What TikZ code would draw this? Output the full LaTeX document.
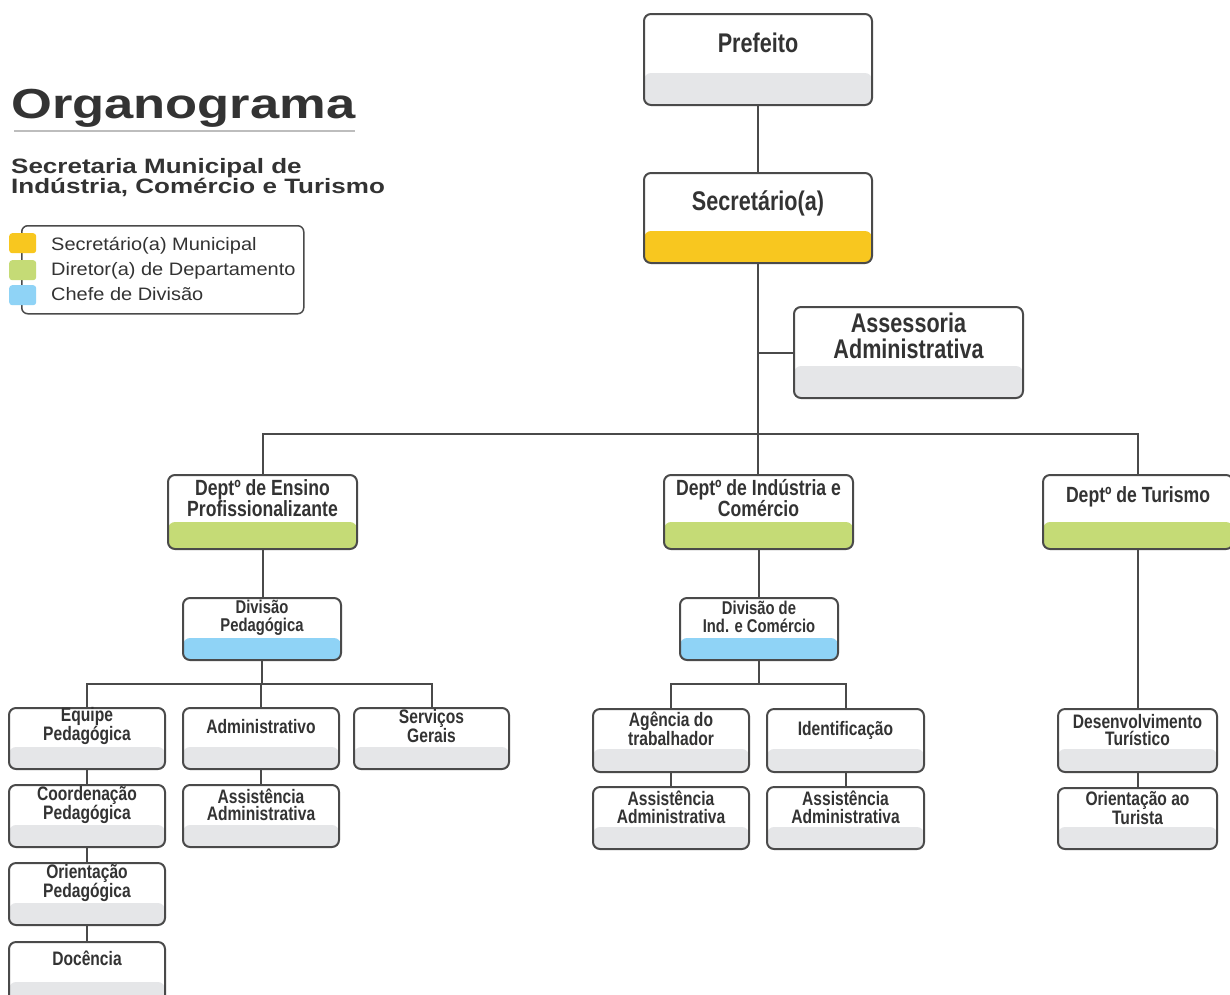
\documentclass[tikz,border=0pt]{standalone}
\usepackage{fontspec}
\setmainfont{Liberation Sans}
\newfontfamily\boxfont[FakeStretch=0.8]{Liberation Sans}
\newfontfamily\titlefont[FakeStretch=1.25]{Liberation Sans}
\newfontfamily\subfont[FakeStretch=1.25]{Liberation Sans}
\newfontfamily\legfont[FakeStretch=1.11]{Liberation Sans}
\definecolor{edge}{HTML}{4A4A4A}
\definecolor{ink}{HTML}{333333}
\definecolor{bandgray}{HTML}{E5E6E8}
\definecolor{bandyellow}{HTML}{F8C71F}
\definecolor{bandgreen}{HTML}{C5DB76}
\definecolor{bandblue}{HTML}{8FD3F6}
\definecolor{rulegray}{HTML}{BDBDBD}

\tikzset{
  orgbox/.style n args={2}{draw=edge, line width=2pt, rounded corners=7pt,
    fill=white, inner sep=0pt, anchor=north west,
    path picture={\fill[#1] (path picture bounding box.south west)
      rectangle ([yshift=#2]path picture bounding box.south east);}},
  bigtxt/.style={text=ink, align=center, inner sep=0pt,
    font=\boxfont\bfseries\fontsize{27}{26}\selectfont},
  depttxt/.style={text=ink, align=center, inner sep=0pt,
    font=\boxfont\bfseries\fontsize{22}{18.5}\selectfont},
  divtxt/.style={text=ink, align=center, inner sep=0pt,
    font=\boxfont\bfseries\fontsize{18.5}{18}\selectfont},
  smalltxt/.style={text=ink, align=center, inner sep=0pt,
    font=\boxfont\bfseries\fontsize{19.5}{17.5}\selectfont},
  conn/.style={draw=edge, line width=2pt},
  legsq/.style={fill=#1, rounded corners=3pt, minimum width=27pt,
    minimum height=20pt, inner sep=0pt, anchor=north west},
  legtxt/.style={text=ink, anchor=base west, inner sep=0pt,
    font=\legfont\fontsize{18}{18}\selectfont}
}

\begin{document}
\begin{tikzpicture}[x=1pt,y=-1pt]
\fill[white] (0,0) rectangle (1230,994);
\clip (0,0) rectangle (1230,994);

% ---- heading ----
\node[anchor=base west, inner sep=0pt, text=ink,
  font=\titlefont\bfseries\fontsize{42}{42}\selectfont] (title) at (11,118) {Organograma};
\draw[rulegray, line width=2.5pt] (14,131) -- (355,131);
\node[anchor=north west, inner sep=0pt, text=ink, align=left,
  font=\subfont\bfseries\fontsize{20.8}{19.5}\selectfont] (subtitle) at (11,158)
  {Secretaria Municipal de\\Indústria, Comércio e Turismo};

% ---- legend ----
\node[draw=edge, line width=1.5pt, rounded corners=6pt, minimum width=282pt,
  minimum height=88pt, inner sep=0pt, anchor=north west] (legend) at (21,225) {};
\node[legsq=bandyellow] (sqy) at (9,233) {};
\node[legsq=bandgreen] (sqg) at (9,260) {};
\node[legsq=bandblue] (sqb) at (9,285) {};
\node[legtxt] (ly) at (51,250) {Secretário(a) Municipal};
\node[legtxt] (lg) at (51,275) {Diretor(a) de Departamento};
\node[legtxt] (lb) at (51,300) {Chefe de Divisão};

% ---- top level ----
\node[orgbox={bandgray}{32pt}, minimum width=228pt, minimum height=91pt] (pref) at (643,13) {};
\node[bigtxt] (pref-t) at ([yshift=-30pt]pref.north) {Prefeito};
\node[orgbox={bandyellow}{32pt}, minimum width=228pt, minimum height=90pt] (sec) at (643,172) {};
\node[bigtxt] (sec-t) at ([yshift=-31pt]sec.north) {Secretário(a)};
\node[orgbox={bandgray}{32pt}, minimum width=229pt, minimum height=91pt] (asse) at (793,306) {};
\node[bigtxt] (asse-t) at ([yshift=-30pt]asse.north) {Assessoria\\Administrativa};

% ---- departments ----
\node[orgbox={bandgreen}{27pt}, minimum width=189pt, minimum height=74pt] (dens) at (167,474) {};
\node[depttxt] (dens-t) at ([yshift=-24pt]dens.north) {Deptº de Ensino\\Profissionalizante};
\node[orgbox={bandgreen}{27pt}, minimum width=189pt, minimum height=74pt] (dind) at (663,474) {};
\node[depttxt] (dind-t) at ([yshift=-24pt]dind.north) {Deptº de Indústria e\\Comércio};
\node[orgbox={bandgreen}{27pt}, minimum width=190pt, minimum height=74pt] (dtur) at (1042,474) {};
\node[depttxt] (dtur-t) at ([yshift=-23pt]dtur.north) {Deptº de Turismo};

% ---- divisions ----
\node[orgbox={bandblue}{22pt}, minimum width=158pt, minimum height=62pt] (dped) at (182,597) {};
\node[divtxt] (dped-t) at ([yshift=-21pt]dped.north) {Divisão\\Pedagógica};
\node[orgbox={bandblue}{22pt}, minimum width=158pt, minimum height=62pt] (dcom) at (679,597) {};
\node[divtxt] (dcom-t) at ([yshift=-20pt]dcom.north) {Divisão de\\Ind. e Comércio};

% ---- units, left branch ----
\node[orgbox={bandgray}{22pt}, minimum width=156pt, minimum height=61pt] (equ) at (8,707) {};
\node[smalltxt] (equ-t) at ([yshift=-19pt]equ.north) {Equipe\\Pedagógica};
\node[orgbox={bandgray}{22pt}, minimum width=156pt, minimum height=61pt] (adm) at (182,707) {};
\node[smalltxt] (adm-t) at ([yshift=-20pt]adm.north) {Administrativo};
\node[orgbox={bandgray}{22pt}, minimum width=155pt, minimum height=61pt] (serv) at (353,707) {};
\node[smalltxt] (serv-t) at ([yshift=-19pt]serv.north) {Serviços\\Gerais};
\node[orgbox={bandgray}{22pt}, minimum width=156pt, minimum height=62pt] (coord) at (8,784) {};
\node[smalltxt] (coord-t) at ([yshift=-21pt]coord.north) {Coordenação\\Pedagógica};
\node[orgbox={bandgray}{22pt}, minimum width=156pt, minimum height=62pt] (aadm) at (182,784) {};
\node[smalltxt] (aadm-t) at ([yshift=-21pt]aadm.north) {Assistência\\Administrativa};
\node[orgbox={bandgray}{22pt}, minimum width=156pt, minimum height=62pt] (ori) at (8,862) {};
\node[smalltxt] (ori-t) at ([yshift=-21pt]ori.north) {Orientação\\Pedagógica};
\node[orgbox={bandgray}{22pt}, minimum width=156pt, minimum height=62pt] (doc) at (8,941) {};
\node[smalltxt] (doc-t) at ([yshift=-17pt]doc.north) {Docência};

% ---- units, middle branch ----
\node[orgbox={bandgray}{23pt}, minimum width=156pt, minimum height=63pt] (age) at (592,708) {};
\node[smalltxt] (age-t) at ([yshift=-20.5pt]age.north) {Agência do\\trabalhador};
\node[orgbox={bandgray}{23pt}, minimum width=157pt, minimum height=63pt] (ide) at (766,708) {};
\node[smalltxt] (ide-t) at ([yshift=-22pt]ide.north) {Identificação};
\node[orgbox={bandgray}{22pt}, minimum width=156pt, minimum height=62pt] (aage) at (592,786) {};
\node[smalltxt] (aage-t) at ([yshift=-21.5pt]aage.north) {Assistência\\Administrativa};
\node[orgbox={bandgray}{22pt}, minimum width=157pt, minimum height=62pt] (aide) at (766,786) {};
\node[smalltxt] (aide-t) at ([yshift=-21.5pt]aide.north) {Assistência\\Administrativa};

% ---- units, right branch ----
\node[orgbox={bandgray}{23pt}, minimum width=159pt, minimum height=63pt] (des) at (1057,708) {};
\node[smalltxt] (des-t) at ([yshift=-22pt]des.north) {Desenvolvimento\\Turístico};
\node[orgbox={bandgray}{22pt}, minimum width=159pt, minimum height=61pt] (otur) at (1057,787) {};
\node[smalltxt] (otur-t) at ([yshift=-21pt]otur.north) {Orientação ao\\Turista};

% ---- connectors ----
\coordinate (barTop) at (0,434);
\coordinate (barLow) at (0,684);
\draw[conn] (pref.south) -- (sec.north);
\draw[conn] (sec.south) -- (sec.south |- dind.north);
\draw[conn] (asse.west) -- (asse.west -| sec.south);
\draw[conn] (dens.north) -- (dens.north |- barTop) -- (dtur.north |- barTop) -- (dtur.north);
\draw[conn] (dens.south) -- (dens.south |- dped.north);
\draw[conn] (dind.south) -- (dind.south |- dcom.north);
\draw[conn] (dtur.south) -- (dtur.south |- des.north);
% left branch
\draw[conn] (equ.north) -- (equ.north |- barLow) -- (serv.north |- barLow) -- (serv.north);
\draw[conn] (dped.south) -- (dped.south |- barLow);
\draw[conn] (adm.north) -- (adm.north |- barLow);
\draw[conn] (equ.south) -- (coord.north);
\draw[conn] (coord.south) -- (ori.north);
\draw[conn] (ori.south) -- (doc.north);
\draw[conn] (adm.south) -- (aadm.north);
% middle branch
\draw[conn] (age.north) -- (age.north |- barLow) -- (ide.north |- barLow) -- (ide.north);
\draw[conn] (dcom.south) -- (dcom.south |- barLow);
\draw[conn] (age.south) -- (aage.north);
\draw[conn] (ide.south) -- (aide.north);
% right branch
\draw[conn] (des.south) -- (otur.north);
\end{tikzpicture}
\end{document}
